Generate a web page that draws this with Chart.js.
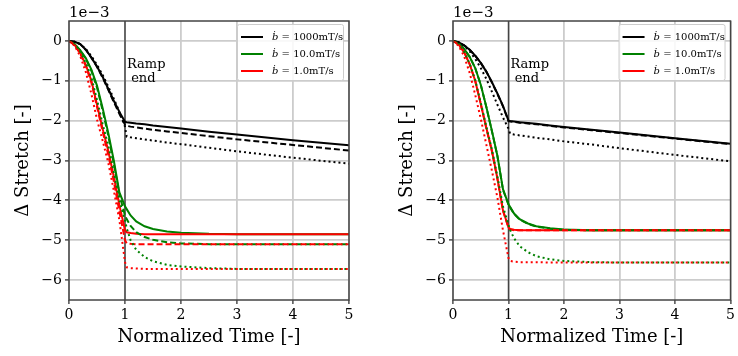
<!DOCTYPE html>
<html>
<head>
<meta charset="utf-8">
<script src="https://cdn.jsdelivr.net/npm/chart.js@4.4.1/dist/chart.umd.min.js"></script>
<style>
  body { margin: 0; background: #fff; }
  #wrap { position: relative; width: 738px; height: 356px; }
  canvas { position: absolute; top: 0; }
</style>
</head>
<body>
<div id="wrap">
  <canvas id="left" width="369" height="356" style="left:0"></canvas>
  <canvas id="right" width="369" height="356" style="left:369px"></canvas>
</div>
<script>
// ---------- data (values in units of 1e-3) ----------
const time = [0, 0.1, 0.2, 0.3, 0.4, 0.5, 0.6, 0.7, 0.8, 0.9, 1.0, 1.03, 1.1, 1.2, 1.35, 1.5, 1.75, 2, 2.5, 3, 4, 5];
const xTicks = [0, 1, 2, 3, 4, 5];
const yTicks = [0, -1, -2, -3, -4, -5, -6];
const rampEnd = 1;
const rates = ["1000", "10.0", "1.0"];
const colors = ["#000000", "#008000", "#ff0000"];

// left panel
const leftBlackSolid  = [0,-0.02,-0.08,-0.22,-0.42,-0.64,-0.9,-1.2,-1.5,-1.78,-2.03, -2.04,-2.05,-2.07,-2.09,-2.12,-2.16,-2.2,-2.28,-2.35,-2.49,-2.62];
const leftBlackDashed = [0,-0.02,-0.08,-0.22,-0.42,-0.65,-0.92,-1.22,-1.53,-1.83,-2.1, -2.13,-2.15,-2.17,-2.2,-2.23,-2.27,-2.31,-2.39,-2.47,-2.61,-2.75];
const leftBlackDotted = [0,-0.02,-0.08,-0.2,-0.38,-0.6,-0.85,-1.14,-1.45,-1.78,-2.15, -2.4,-2.42,-2.44,-2.47,-2.5,-2.55,-2.59,-2.68,-2.77,-2.93,-3.08];
const leftGreenSolid  = [0,-0.08,-0.23,-0.43,-0.72,-1.12,-1.68,-2.3,-3.0,-3.8,-4.15, -4.22,-4.38,-4.53,-4.65,-4.72,-4.78,-4.81,-4.84,-4.85,-4.85,-4.85];
const leftGreenDashed = [0,-0.08,-0.24,-0.45,-0.75,-1.17,-1.74,-2.37,-3.08,-3.85,-4.38, -4.47,-4.64,-4.8,-4.92,-4.99,-5.05,-5.08,-5.1,-5.1,-5.1,-5.1];
const leftGreenDotted = [0,-0.09,-0.27,-0.55,-0.92,-1.48,-2.08,-2.62,-3.3,-4.0,-4.5, -4.7,-5.0,-5.24,-5.42,-5.53,-5.62,-5.66,-5.7,-5.72,-5.72,-5.72];
const leftRedSolid    = [0,-0.1,-0.3,-0.6,-1.0,-1.6,-2.2,-2.75,-3.4,-4.12,-4.75, -4.8,-4.82,-4.84,-4.85,-4.85,-4.85,-4.85,-4.85,-4.85,-4.85,-4.85];
const leftRedDashed   = [0,-0.1,-0.32,-0.63,-1.05,-1.65,-2.27,-2.85,-3.52,-4.28,-5.0, -5.08,-5.09,-5.1,-5.1,-5.1,-5.1,-5.1,-5.1,-5.1,-5.1,-5.1];
const leftRedDotted   = [0,-0.12,-0.38,-0.78,-1.33,-1.97,-2.5,-3.05,-3.75,-4.5,-5.55, -5.68,-5.7,-5.71,-5.72,-5.72,-5.72,-5.72,-5.72,-5.72,-5.72,-5.72];

// right panel
const rightBlackSolid  = [0,-0.03,-0.11,-0.22,-0.37,-0.55,-0.77,-1.03,-1.32,-1.63,-2.0, -2.01,-2.02,-2.04,-2.06,-2.08,-2.12,-2.16,-2.23,-2.3,-2.44,-2.58];
const rightBlackDashed = [0,-0.03,-0.11,-0.22,-0.37,-0.55,-0.77,-1.04,-1.33,-1.64,-2.01, -2.02,-2.03,-2.05,-2.07,-2.09,-2.13,-2.17,-2.24,-2.31,-2.45,-2.59];
const rightBlackDotted = [0,-0.03,-0.12,-0.26,-0.45,-0.68,-0.95,-1.27,-1.6,-1.92,-2.2, -2.33,-2.35,-2.37,-2.4,-2.43,-2.47,-2.52,-2.6,-2.69,-2.86,-3.02];
const rightGreenSolid  = [0,-0.06,-0.2,-0.4,-0.68,-1.1,-1.65,-2.25,-2.88,-3.72,-4.1, -4.17,-4.33,-4.47,-4.58,-4.65,-4.7,-4.73,-4.75,-4.75,-4.75,-4.75];
const rightGreenDashed = [0,-0.06,-0.2,-0.4,-0.68,-1.1,-1.66,-2.26,-2.89,-3.73,-4.11, -4.18,-4.34,-4.48,-4.59,-4.66,-4.71,-4.74,-4.75,-4.75,-4.75,-4.75];
const rightGreenDotted = [0,-0.09,-0.28,-0.57,-0.98,-1.55,-2.15,-2.72,-3.4,-4.15,-4.62, -4.75,-4.95,-5.15,-5.3,-5.4,-5.48,-5.52,-5.55,-5.56,-5.56,-5.56];
const rightRedSolid    = [0,-0.09,-0.28,-0.58,-1.0,-1.58,-2.18,-2.75,-3.45,-4.25,-4.68, -4.72,-4.74,-4.75,-4.75,-4.75,-4.75,-4.75,-4.75,-4.75,-4.75,-4.75];
const rightRedDashed   = [0,-0.09,-0.28,-0.58,-1.0,-1.58,-2.19,-2.76,-3.46,-4.26,-4.69, -4.73,-4.75,-4.75,-4.75,-4.75,-4.75,-4.75,-4.75,-4.75,-4.75,-4.75];
const rightRedDotted   = [0,-0.12,-0.38,-0.8,-1.35,-1.95,-2.6,-3.25,-3.93,-4.75,-5.45, -5.52,-5.54,-5.55,-5.55,-5.55,-5.56,-5.56,-5.56,-5.56,-5.56,-5.56];

const Y_MIN = -6.5, Y_MAX = 0.5;
const SERIF = "'DejaVu Serif', serif";
const DASHES = { solid: [], dashed: [6, 3], dotted: [2, 3] };

// ---------- helpers ----------
const minus = v => (v < 0 ? "\u2212" + Math.abs(v) : String(v));

function buildDatasets(groups) {
  // groups: { solid:[k,g,r], dashed:[k,g,r], dotted:[k,g,r] } drawn in that order
  const out = [];
  out.push({
    data: [{ x: rampEnd, y: Y_MIN }, { x: rampEnd, y: Y_MAX }],
    borderColor: "#444444", borderWidth: 1.5, pointRadius: 0
  });
  ["solid", "dashed", "dotted"].forEach(style => {
    groups[style].forEach((vals, ci) => {
      out.push({
        data: time.map((t, i) => ({ x: t, y: vals[i] })),
        borderColor: colors[ci], borderWidth: 2, borderDash: DASHES[style],
        pointRadius: 0, tension: 0
      });
    });
  });
  // later datasets on top (like matplotlib)
  out.forEach((d, i) => d.order = out.length - i);
  return out;
}

const decorPlugin = {
  id: "decor",
  afterDatasetsDraw(chart) {
    const { ctx, chartArea: a, scales: { x, y } } = chart;
    ctx.save();
    // frame
    ctx.strokeStyle = "#444444";
    ctx.lineWidth = 1.5;
    ctx.strokeRect(a.left, a.top, a.right - a.left, a.bottom - a.top);

    // ramp end note
    ctx.fillStyle = "#000";
    ctx.font = "13px " + SERIF;
    ctx.textBaseline = "alphabetic";
    ctx.textAlign = "left";
    const tx = x.getPixelForValue(rampEnd) + 2;
    ctx.fillText("Ramp", tx, y.getPixelForValue(-0.68));
    ctx.fillText(" end", tx, y.getPixelForValue(-1.03));

    // offset text
    ctx.font = "15px " + SERIF;
    ctx.fillText("1e\u22123", a.left, a.top - 4);

    // legend
    const w = 106, h = 56;
    const bx = a.right - 6 - w, by = a.top + 3;
    ctx.fillStyle = "rgba(255,255,255,0.85)";
    ctx.strokeStyle = "#cccccc";
    ctx.lineWidth = 1;
    ctx.beginPath();
    ctx.roundRect(bx + 0.5, by + 0.5, w, h, 2);
    ctx.fill();
    ctx.stroke();
    rates.forEach((r, i) => {
      const ly = by + 13 + i * 17;
      ctx.strokeStyle = colors[i];
      ctx.lineWidth = 2;
      ctx.beginPath();
      ctx.moveTo(bx + 4, ly);
      ctx.lineTo(bx + 26, ly);
      ctx.stroke();
      ctx.fillStyle = "#000";
      ctx.textBaseline = "middle";
      ctx.font = "italic 10px " + SERIF;
      ctx.fillText("\u1E03", bx + 35, ly);
      const bw = ctx.measureText("\u1E03").width;
      ctx.font = "10px " + SERIF;
      ctx.fillText(" = " + r + "mT/s", bx + 35 + bw, ly);
    });
    ctx.restore();
  }
};

function makeChart(id, groups, padLeft, padRight) {
  const tickFont = { family: SERIF, size: 14 };
  const titleFont = { family: SERIF, size: 18 };
  const grid = { color: "#cccccc", lineWidth: 1.8, tickLength: 4, tickColor: "#333333", tickWidth: 1.3 };
  return new Chart(document.getElementById(id), {
    type: "line",
    data: { datasets: buildDatasets(groups) },
    plugins: [decorPlugin],
    options: {
      responsive: false,
      animation: false,
      events: [],
      layout: { padding: { left: padLeft, right: padRight, top: 21, bottom: 0 } },
      plugins: { legend: { display: false }, tooltip: { enabled: false } },
      scales: {
        x: {
          type: "linear", min: 0, max: 5,
          afterBuildTicks: s => { s.ticks = xTicks.map(v => ({ value: v })); },
          afterFit: s => { s.height = 56; },
          ticks: { font: tickFont, color: "#000", padding: 3, maxRotation: 0, callback: v => minus(v) },
          grid: grid,
          border: { display: false },
          title: { display: true, text: "Normalized Time [-]", font: titleFont, color: "#000", padding: { top: 0, bottom: 8 } }
        },
        y: {
          type: "linear", min: Y_MIN, max: Y_MAX,
          afterBuildTicks: s => { s.ticks = yTicks.map(v => ({ value: v })); },
          afterFit: s => { s.width = 69; },
          ticks: { font: tickFont, color: "#000", padding: 3, callback: v => minus(v) },
          grid: grid,
          border: { display: false },
          title: { display: true, text: "\u0394 Stretch [-]", font: titleFont, color: "#000", padding: { top: 13, bottom: 0 } }
        }
      }
    }
  });
}

makeChart("left", {
  solid:  [leftBlackSolid, leftGreenSolid, leftRedSolid],
  dashed: [leftBlackDashed, leftGreenDashed, leftRedDashed],
  dotted: [leftBlackDotted, leftGreenDotted, leftRedDotted]
}, 0, 20);

makeChart("right", {
  solid:  [rightBlackSolid, rightGreenSolid, rightRedSolid],
  dashed: [rightBlackDashed, rightGreenDashed, rightRedDashed],
  dotted: [rightBlackDotted, rightGreenDotted, rightRedDotted]
}, 15, 5);
</script>
</body>
</html>
